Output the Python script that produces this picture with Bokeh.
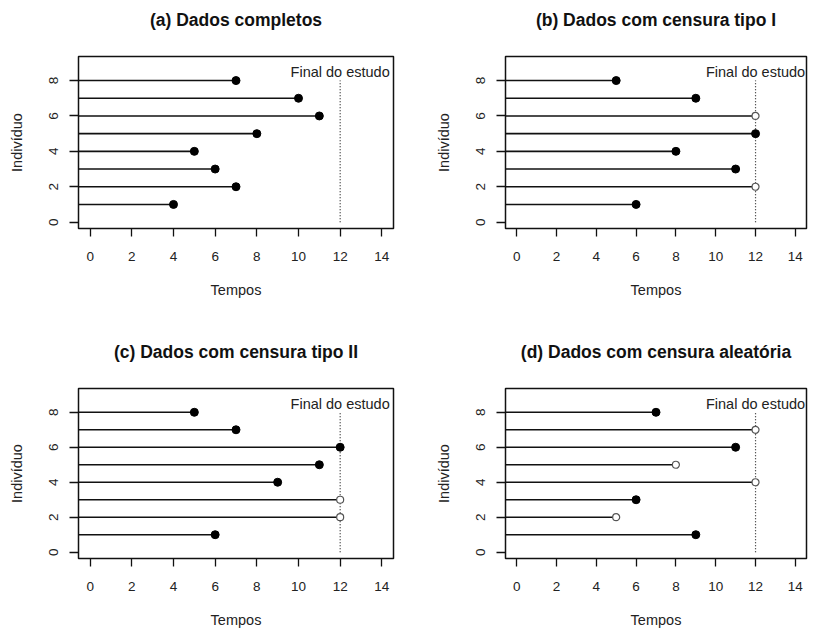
from bokeh.plotting import figure
from bokeh.layouts import column, row
from bokeh.models import FixedTicker, Range1d, ColumnDataSource, Title
from bokeh.core.properties import value
from bokeh.embed import file_html
from bokeh.resources import INLINE

FONT = "Liberation Sans"

individuals = [1, 2, 3, 4, 5, 6, 7, 8]

titles = [
    "(a) Dados completos",
    "(b) Dados com censura tipo I",
    "(c) Dados com censura tipo II",
    "(d) Dados com censura aleatória",
]

times_a = [4, 7, 6, 5, 8, 11, 10, 7]
status_a = [1, 1, 1, 1, 1, 1, 1, 1]

times_b = [6, 12, 11, 8, 12, 12, 9, 5]
status_b = [1, 0, 1, 1, 1, 0, 1, 1]

times_c = [6, 12, 12, 9, 11, 12, 7, 5]
status_c = [1, 0, 0, 1, 1, 1, 1, 1]

times_d = [9, 5, 6, 12, 8, 11, 12, 7]
status_d = [1, 0, 1, 0, 0, 1, 0, 1]

study_end = 12
end_label = "Final do estudo"
end_label_y = 8.5
x_ticks = [0, 2, 4, 6, 8, 10, 12, 14]
y_ticks = [0, 2, 4, 6, 8]
x_lim = (0, 14)
y_lim = (0, 9)
seg_start = -1


def make_panel(title, times, status, width, height, left, right, top, bottom):
    xr = x_lim[1] - x_lim[0]
    yr = y_lim[1] - y_lim[0]
    p = figure(
        width=width, height=height, output_backend="svg", toolbar_location=None,
        x_range=Range1d(x_lim[0] - 0.04 * xr, x_lim[1] + 0.04 * xr),
        y_range=Range1d(y_lim[0] - 0.04 * yr, y_lim[1] + 0.04 * yr),
        min_border_left=left, min_border_right=right,
        min_border_top=top, min_border_bottom=bottom,
    )
    # spacer between the frame and the title
    p.add_layout(Title(text=" ", text_font_size="1px", standoff=22), "above")
    p.add_layout(Title(text=title, align="center", text_font=FONT,
                       text_font_size="17.5px", text_font_style="bold",
                       text_color="#111111", standoff=4), "above")
    p.outline_line_color = "#111111"
    p.outline_line_width = 1.5
    p.outline_line_alpha = 1.0
    p.xgrid.visible = False
    p.ygrid.visible = False
    p.background_fill_color = "white"
    p.border_fill_color = "white"

    for ax in (p.xaxis[0], p.yaxis[0]):
        ax.axis_line_color = None
        ax.minor_tick_line_color = None
        ax.major_tick_in = 0
        ax.major_tick_line_color = "#111111"
        ax.major_tick_line_width = 1.3
        ax.major_label_text_font = FONT
        ax.major_label_text_font_size = "13.5px"
        ax.major_label_text_color = "#222222"
        ax.axis_label_text_font = FONT
        ax.axis_label_text_font_size = "14.5px"
        ax.axis_label_text_font_style = "normal"
        ax.axis_label_text_color = "#222222"

    p.xaxis.ticker = FixedTicker(ticks=x_ticks)
    p.yaxis.ticker = FixedTicker(ticks=y_ticks)
    p.xaxis.major_tick_out = 8
    p.yaxis.major_tick_out = 9
    p.xaxis.major_label_standoff = 15
    p.yaxis.major_label_standoff = 11
    p.yaxis.major_label_orientation = "vertical"
    p.xaxis.axis_label = "Tempos"
    p.yaxis.axis_label = "Indivíduo"
    p.xaxis.axis_label_standoff = 18
    p.yaxis.axis_label_standoff = 22

    src = ColumnDataSource(dict(
        y=individuals, t=times, x0=[seg_start] * len(times),
    ))
    p.segment(x0="x0", y0="y", x1="t", y1="y", source=src,
              line_color="#111111", line_width=1.6)

    p.segment(x0=[study_end], y0=[y_lim[0]], x1=[study_end], y1=[8],
              line_color="#222222", line_width=1.2, line_dash="1 2")
    p.text(x=[study_end], y=[end_label_y], text=[end_label],
           text_align="center", text_baseline="middle",
           text_font=value(FONT), text_font_size="14.5px",
           text_color="#222222")

    ev = dict(x=[t for t, s in zip(times, status) if s == 1],
              y=[i for i, s in zip(individuals, status) if s == 1])
    ce = dict(x=[t for t, s in zip(times, status) if s == 0],
              y=[i for i, s in zip(individuals, status) if s == 0])
    p.scatter(x=ev["x"], y=ev["y"], size=8, marker="circle",
              fill_color="black", line_color="black")
    if ce["x"]:
        p.scatter(x=ce["x"], y=ce["y"], size=7, marker="circle",
                  fill_color="white", line_color="#555555", line_width=1.2)
    return p


W1, W2 = 432, 382
H1, H2 = 332, 298

pa = make_panel(titles[0], times_a, status_a, W1, H1, 78, 39, 56, 104)
pb = make_panel(titles[1], times_b, status_b, W2, H1, 70, 8, 56, 104)
pc = make_panel(titles[2], times_c, status_c, W1, H2, 78, 39, 56, 71)
pd = make_panel(titles[3], times_d, status_d, W2, H2, 70, 8, 56, 71)

layout = column(row(pa, pb), row(pc, pd))

open("out.html", "w").write(file_html(layout, INLINE))
